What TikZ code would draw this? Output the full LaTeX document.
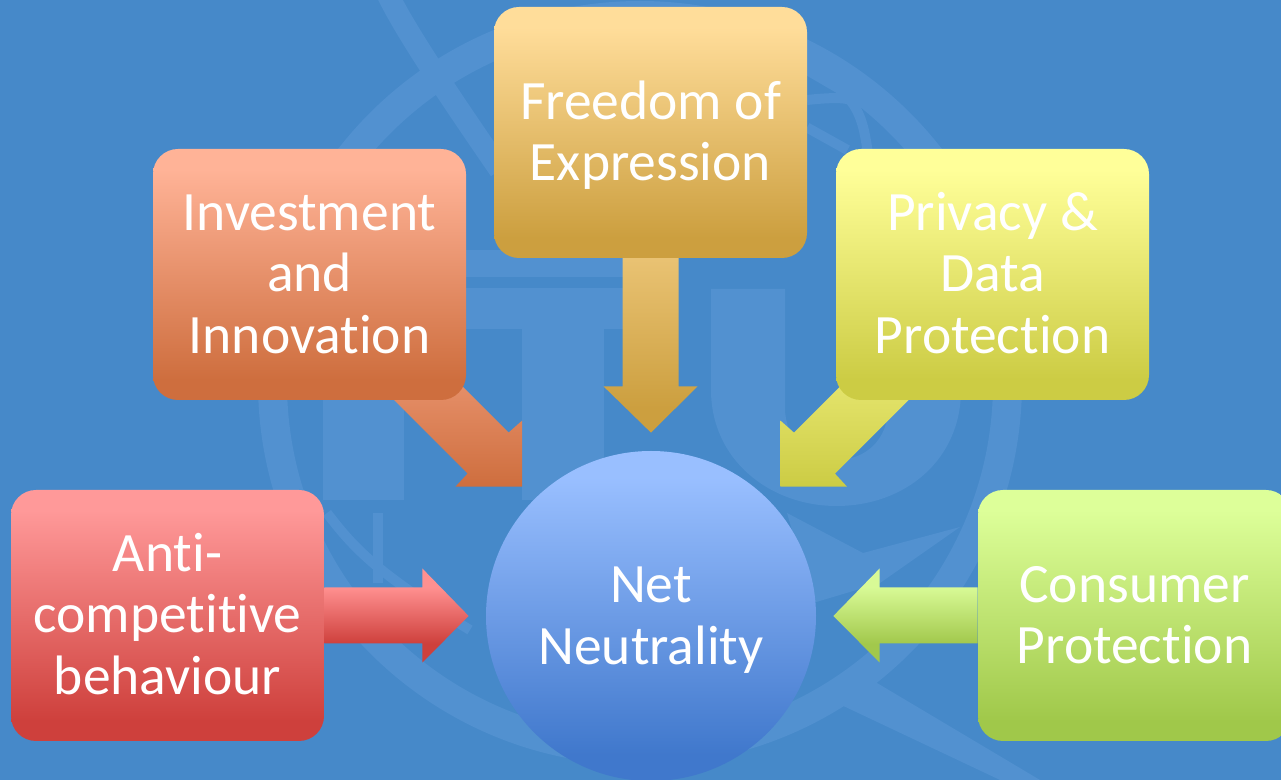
\documentclass[tikz,border=0pt]{standalone}
\usepackage{fontspec}
\setmainfont{Carlito}[Ligatures=NoCommon]
\usetikzlibrary{calc}
\pgfdeclarelayer{behind}
\pgfsetlayers{behind,main}
\definecolor{slidebg}{HTML}{4689C9}
\definecolor{logopart}{HTML}{5291D0}
\definecolor{investup}{HTML}{FFB397}
\definecolor{investlow}{HTML}{CE6E3E}
\definecolor{privacyup}{HTML}{FFFF99}
\definecolor{privacylow}{HTML}{CCCC44}
\pgfdeclareverticalshading[upc,lowc]{softbox}{100bp}{color(0bp)=(lowc); color(29bp)=(lowc); color(71bp)=(upc); color(100bp)=(upc)}
\pgfdeclareverticalshading[upc,lowc]{softarrow}{100bp}{color(0bp)=(lowc); color(35bp)=(lowc); color(65bp)=(upc); color(100bp)=(upc)}
\newcommand{\topln}{\rule{0pt}{30pt}}
\newcommand{\lowln}{\rule[-10.15pt]{0pt}{0pt}}
\begin{document}
\begin{tikzpicture}[two tone/.style 2 args={/utils/exec={\definecolor{upc}{HTML}{#1}\definecolor{lowc}{HTML}{#2}}},label text/.style={inner sep=0pt, align=center, text=white, font=\fontsize{31.6}{35.2}\selectfont},topic node/.style={label text, shade, shading=softbox, rounded corners=0.5cm, minimum width=6.26cm, minimum height=5.02cm},hub node/.style={label text, shade, shading=softbox, circle, minimum size=6.6cm},logo part/.style={fill=logopart},logo line/.style={draw=logopart, line cap=butt}]%
\path[use as bounding box] (0,0) rectangle (25.62,-15.6);%
  % Hub%
\node[hub node, two tone={99BFFF}{4078CC}] (hub) at (13.02,-12.32) {\topln Net\\Neutrality\lowln};%
  % Topics%
\node[topic node, two tone={FF9999}{CE403C}] (anti) at (3.35,-12.31) {\topln Anti-\\competitive\\behaviour\lowln};%
\node[topic node, two tone={FFB397}{CE6E3E}] (invest) at (6.19,-5.49) {\topln Investment\\and\\Innovation\lowln};%
\node[topic node, two tone={FFDD9A}{CC9F3F}] (freedom) at (13.01,-2.65) {\topln Freedom of\\Expression\lowln};%
\node[topic node, two tone={FFFF99}{CCCC44}] (privacy) at (19.85,-5.49) {\topln Privacy \&\\Data\\Protection\lowln};%
\node[topic node, two tone={DDFF99}{A0C84A}] (consumer) at (22.69,-12.31) {\topln Consumer\\Protection\lowln};%
\coordinate (investtip) at ($(hub.135)+(-0.24,0.25)$);%
\coordinate (privacytip) at ($(hub.45)+(0.25,0.25)$);%
\begin{pgfonlayer}{behind}%
  % Background and faint logo%
\fill[slidebg] (0,0) rectangle (25.62,-15.6);%
\fill[logo part, even odd rule] (12.8,-7.66) circle (7.64) (12.8,-7.66) circle (7.06);%
\fill[logo part] (6.46,-5.76) rectangle (8.08,-10.0);%
\fill[logo part] (8.8,-5.76) rectangle (12.8,-6.58);%
\fill[logo part] (10.44,-6.58) rectangle (12.08,-10.0);%
\fill[logo part] (9.2,-5.0) rectangle (12.8,-5.54);%
\fill[logo part] (14.22,-5.78) -- (14.22,-7.8) .. controls (14.22,-9.2) and (15.4,-10.12) .. (16.73,-10.12) .. controls (18.1,-10.12) and (19.22,-9.2) .. (19.22,-7.8) -- (19.22,-5.78) -- (17.76,-5.78) -- (17.76,-8.16) .. controls (17.76,-8.8) and (17.3,-9.2) .. (16.73,-9.2) .. controls (16.2,-9.2) and (15.7,-8.8) .. (15.7,-8.16) -- (15.7,-5.78) -- cycle;%
\draw[logo line, line width=0.44cm] (7.76,0.1) .. controls (8.1,-0.6) and (8.9,-1.8) .. (10,-3.4);%
\draw[logo line, line width=0.2cm] (16.14,-2.0) .. controls (16.6,-1.95) and (16.9,-1.95) .. (17.0,-2.0) .. controls (17.25,-2.3) and (17.3,-2.7) .. (17.35,-3.0);%
\draw[logo line, line width=0.2cm] (16.14,-1.4) -- (17.0,-1.9);%
\draw[logo line, line width=0.2cm] (16.14,-2.55) -- (16.95,-3.0);%
\draw[logo line, line width=0.2cm] (6.54,-10.26) .. controls (7.1,-11.0) and (7.6,-11.5) .. (9.4,-12.6);%
\fill[logo part] (7.46,-10.26) rectangle (7.66,-11.66);%
\fill[logo part] (15.74,-10.26) -- (17.26,-11.06) -- (19.2,-10.54) -- (17.6,-11.66) -- (16.26,-12.06) -- cycle;%
\fill[logo part] (16.74,-14.06) -- (20.0,-15.6) -- (20.8,-15.6) -- (17.44,-13.6) -- cycle;%
  % Arrows into the hub%
\path[shade, shading=softarrow, two tone={FF9090}{CE403C}] ($(anti.east)+(0,0.56)$) -- ++(1.96,0) -- ++(0,0.38) -- ($(hub.west)+(-0.34,0)$) -- ($(anti.east)+(1.96,-0.94)$) -- ++(0,0.38) -- ($(anti.east)+(0,-0.56)$) -- cycle;%
\path[shade, shading=softarrow, two tone={D8FA96}{A2C84C}] ($(consumer.west)+(0,0.56)$) -- ++(-1.96,0) -- ++(0,0.38) -- ($(hub.east)+(0.34,0)$) -- ($(consumer.west)+(-1.96,-0.94)$) -- ++(0,0.38) -- ($(consumer.west)+(0,-0.56)$) -- cycle;%
\path[shade, shading=softbox, two tone={FFDD9A}{CC9F3F}] ($(freedom.south)+(-0.56,2.76)$) -- ($(freedom.south)+(-0.56,-2.56)$) -- ($(freedom.south)+(-0.94,-2.56)$) -- ($(hub.north)+(0,0.36)$) -- ($(freedom.south)+(0.94,-2.56)$) -- ($(freedom.south)+(0.56,-2.56)$) -- ($(freedom.south)+(0.56,2.76)$) -- cycle;%
\path[top color=investup, bottom color=investlow] (investtip) -- ++(0,1.32) -- ($(investtip)+(-0.27,1.08)$) -- ($(investtip)+(-3.51,4.32)$) -- ($(investtip)+(-5.15,4.32)$) -- ($(investtip)+(-1.09,0.26)$) -- ($(investtip)+(-1.33,0)$) -- cycle;%
\path[top color=privacyup, bottom color=privacylow] (privacytip) -- ++(0,1.32) -- ($(privacytip)+(0.27,1.08)$) -- ($(privacytip)+(3.51,4.32)$) -- ($(privacytip)+(5.15,4.32)$) -- ($(privacytip)+(1.09,0.26)$) -- ($(privacytip)+(1.33,0)$) -- cycle;%
\end{pgfonlayer}%
\end{tikzpicture}
\end{document}
